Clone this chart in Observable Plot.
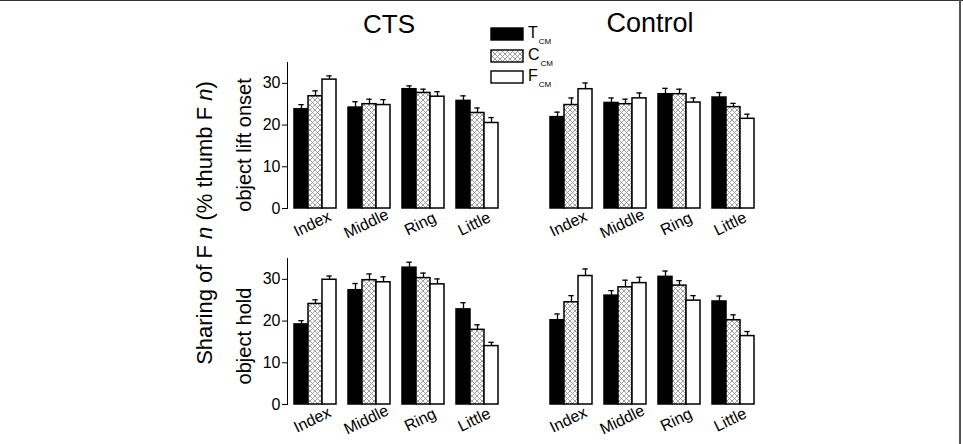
<!DOCTYPE html>
<html><head><meta charset="utf-8">
<script src="https://cdn.jsdelivr.net/npm/d3@7"></script>
<script src="https://cdn.jsdelivr.net/npm/@observablehq/plot@0.6"></script>
<style>
html,body{margin:0;padding:0;background:#fff;}
#root{position:relative;width:963px;height:444px;overflow:hidden;font-family:"Liberation Sans",Arial,sans-serif;color:#000;}
.abs{position:absolute;}
.rot{position:absolute;white-space:nowrap;transform:translate(-50%,-50%) rotate(-90deg);}
</style></head><body>
<svg width="0" height="0" style="position:absolute">
  <defs>
    <pattern id="cross" patternUnits="userSpaceOnUse" width="5" height="5">
      <rect width="5" height="5" fill="#fff"/>
      <path d="M0,0L5,5M5,0L0,5M-1,4L1,6M4,-1L6,1M-1,1L1,-1M4,6L6,4" stroke="#8a8a8a" stroke-width="0.8"/>
    </pattern>
  </defs>
</svg>
<div id="root"></div>
<script>
// ---- data ----
const fingers = ["Index", "Middle", "Ring", "Little"];
const series = ["T", "C", "F"];
const seriesSub = "CM";
const yTicks = [0, 10, 20, 30];

// CTS – object lift onset (means / SE)
const ctsLiftT = [23.8, 24.2, 28.6, 25.8];
const ctsLiftC = [26.9, 25.0, 27.7, 22.9];
const ctsLiftF = [30.9, 24.8, 26.8, 20.5];
const ctsLiftTErr = [1.1, 1.4, 0.8, 1.2];
const ctsLiftCErr = [1.3, 1.2, 0.9, 1.2];
const ctsLiftFErr = [0.9, 1.3, 1.2, 1.3];

// Control – object lift onset
const ctrlLiftT = [21.9, 25.3, 27.4, 26.6];
const ctrlLiftC = [24.8, 25.0, 27.4, 24.3];
const ctrlLiftF = [28.6, 26.4, 25.4, 21.5];
const ctrlLiftTErr = [1.2, 1.2, 1.4, 1.2];
const ctrlLiftCErr = [1.7, 1.2, 1.2, 0.9];
const ctrlLiftFErr = [1.5, 1.3, 1.1, 1.1];

// CTS – object hold
const ctsHoldT = [19.2, 27.4, 32.8, 22.8];
const ctsHoldC = [24.1, 29.8, 30.3, 17.9];
const ctsHoldF = [29.9, 29.3, 28.8, 14.0];
const ctsHoldTErr = [0.9, 1.6, 1.3, 1.6];
const ctsHoldCErr = [1.0, 1.5, 1.2, 1.2];
const ctsHoldFErr = [0.9, 1.3, 1.3, 0.9];

// Control – object hold
const ctrlHoldT = [20.2, 26.1, 30.6, 24.7];
const ctrlHoldC = [24.5, 28.1, 28.5, 20.2];
const ctrlHoldF = [30.8, 29.1, 24.9, 16.4];
const ctrlHoldTErr = [1.5, 1.2, 1.4, 1.3];
const ctrlHoldCErr = [1.6, 1.7, 1.2, 1.3];
const ctrlHoldFErr = [1.7, 1.4, 1.2, 1.1];

// ---- styling ----
const FONT = '"Liberation Sans", Arial, sans-serif';
const fills = ["black", "url(#cross)", "white"];
const root = document.getElementById("root");

function rowsOf(means, errs) {
  const rows = [];
  fingers.forEach((f, i) => series.forEach((s, j) => rows.push({finger: f, series: s, value: means[j][i], err: errs[j][i]})));
  return rows;
}

function panel(rows, {left, top, width, marginLeft, yAxis}) {
  const chart = Plot.plot({
    width, height: 218,
    marginLeft, marginRight: 12, marginTop: 22, marginBottom: 50,
    style: {fontFamily: FONT, fontSize: "16px", color: "black", background: "transparent", overflow: "visible"},
    fx: {domain: fingers, padding: 0, axis: null},
    x: {domain: series, padding: 0, insetLeft: 5.7, insetRight: 4.3, axis: null},
    y: {domain: [0, 35], ticks: yTicks, tickSize: 5, tickPadding: 2, label: null, line: true, axis: yAxis ? "left" : null},
    color: {domain: series, range: fills},
    marks: [
      Plot.ruleX(rows, {fx: "finger", x: "series", y1: "value", y2: d => d.value + d.err, stroke: "black", strokeWidth: 1.3}),
      Plot.tickY(rows, {fx: "finger", x: "series", y: d => d.value + d.err, insetLeft: 4.3, insetRight: 4.3, stroke: "black", strokeWidth: 1.3}),
      Plot.barY(rows, {fx: "finger", x: "series", y: "value", fill: "series", stroke: "black", strokeWidth: 1.5}),
      Plot.text(fingers, {fx: d => d, text: d => d, frameAnchor: "bottom", dy: 20, rotate: -26, fontSize: 16})
    ]
  });
  chart.style.position = "absolute";
  chart.style.left = left + "px";
  chart.style.top = top + "px";
  root.appendChild(chart);
}

panel(rowsOf([ctsLiftT, ctsLiftC, ctsLiftF], [ctsLiftTErr, ctsLiftCErr, ctsLiftFErr]), {left: 200, top: 40, width: 315, marginLeft: 87, yAxis: true});
panel(rowsOf([ctrlLiftT, ctrlLiftC, ctrlLiftF], [ctrlLiftTErr, ctrlLiftCErr, ctrlLiftFErr]), {left: 520, top: 40, width: 251, marginLeft: 23, yAxis: false});
panel(rowsOf([ctsHoldT, ctsHoldC, ctsHoldF], [ctsHoldTErr, ctsHoldCErr, ctsHoldFErr]), {left: 200, top: 236, width: 315, marginLeft: 87, yAxis: true});
panel(rowsOf([ctrlHoldT, ctrlHoldC, ctrlHoldF], [ctrlHoldTErr, ctrlHoldCErr, ctrlHoldFErr]), {left: 520, top: 236, width: 251, marginLeft: 23, yAxis: false});

// ---- texts ----
function addText(html, css, cls = "abs") {
  const d = document.createElement("div");
  d.className = cls;
  d.innerHTML = html;
  Object.assign(d.style, css);
  root.appendChild(d);
}
addText("CTS", {left: "389px", top: "11px", fontSize: "26px", lineHeight: "26px", transform: "translateX(-50%)"});
addText("Control", {left: "650px", top: "10px", fontSize: "27px", lineHeight: "27px", transform: "translateX(-50%)"});
addText("object lift onset", {left: "244px", top: "145px", fontSize: "20px", lineHeight: "20px"}, "rot");
addText("object hold", {left: "244px", top: "336px", fontSize: "20px", lineHeight: "20px"}, "rot");
addText("Sharing of F <i>n</i> (% thumb F <i>n</i>)", {left: "205px", top: "223px", fontSize: "22px", lineHeight: "22px"}, "rot");

// ---- legend ----
const legendTops = [28, 49.5, 71];
series.forEach((s, j) => {
  const y = legendTops[j];
  addText(`<svg width="36" height="16"><rect x="1" y="1" width="32" height="12" fill="${fills[j]}" stroke="black" stroke-width="1.4"/></svg>`,
    {left: "490px", top: (y - 1) + "px", lineHeight: "0"});
  addText(`${s}<span style="font-size:8px;position:relative;top:6px;margin-left:1px">${seriesSub}</span>`,
    {left: "528px", top: (y - 3) + "px", fontSize: "16px", lineHeight: "16px"});
});

// ---- frame lines ----
addText("", {left: "0px", top: "0px", width: "963px", height: "1px", background: "#333"});
addText("", {left: "959px", top: "0px", width: "2px", height: "444px", background: "#555"});
</script>
</body></html>
